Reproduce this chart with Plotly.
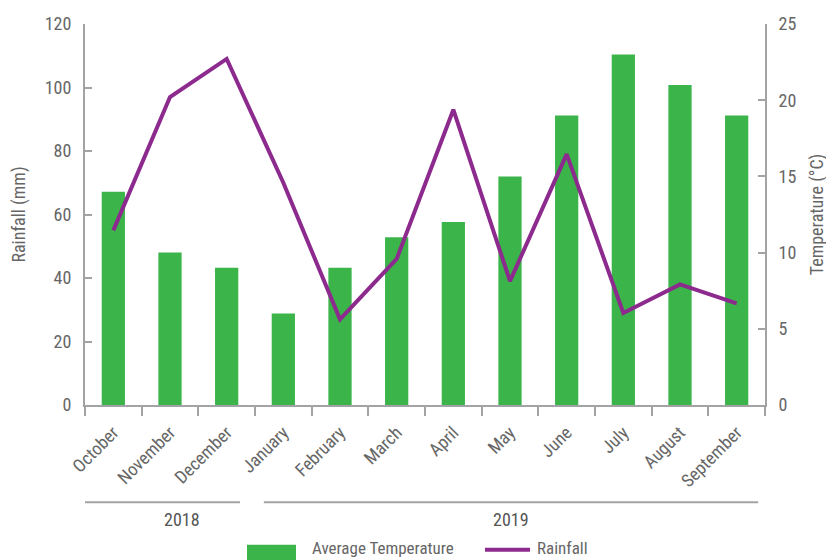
import plotly.graph_objects as go

months = ["October", "November", "December", "January", "February", "March",
          "April", "May", "June", "July", "August", "September"]
temperature_c = [14, 10, 9, 6, 9, 11, 12, 15, 19, 23, 21, 19]
rainfall_mm = [55, 97, 109, 70, 27, 46, 93, 39, 79, 29, 38, 32]
years = ["2018", "2019"]

FONT = "Liberation Sans Narrow, Roboto Condensed, Arial Narrow, Liberation Sans, Arial, sans-serif"
GREEN = "#3BB44A"
PURPLE = "#8C2A8E"
AXIS = "#A3A3A6"
TXT = "#666666"

fig = go.Figure()
fig.add_trace(go.Bar(x=months, y=temperature_c, name="Average Temperature",
                     marker=dict(color=GREEN, line=dict(width=0)), yaxis="y",
                     showlegend=False))
fig.add_trace(go.Scatter(x=months, y=rainfall_mm, name="Rainfall", mode="lines",
                         line=dict(color=PURPLE, width=4), yaxis="y2",
                         showlegend=False))

# page body has an 8px margin, so the figure is shrunk by 8px and margins compensated
fig.update_layout(
    width=826, height=552,
    margin=dict(l=77, r=69, t=16, b=155),
    paper_bgcolor="white", plot_bgcolor="white",
    font=dict(family=FONT, color=TXT, size=16),
    bargap=0.59,
    xaxis=dict(type="category", showgrid=False, showline=True, linecolor=AXIS, linewidth=2,
               ticks="outside", tickson="boundaries", ticklen=9, tickcolor=AXIS, tickwidth=2,
               tickangle=-45, tickfont=dict(size=18, color=TXT), range=[-0.5, 11.5],
               ticklabelstandoff=8, automargin=False),
    yaxis=dict(side="right", range=[0, 25], dtick=5, showgrid=False, zeroline=False,
               showline=True, linecolor=AXIS, linewidth=2, ticks="inside", ticklen=7,
               tickcolor=AXIS, tickwidth=2, tickfont=dict(size=18, color=TXT),
               ticklabelstandoff=8, automargin=False,
               title=dict(text="Temperature (°C)", font=dict(size=18, color=TXT), standoff=15)),
    yaxis2=dict(side="left", overlaying="y", range=[0, 120], dtick=20, showgrid=False,
                zeroline=False, showline=True, linecolor=AXIS, linewidth=2, ticks="inside",
                ticklen=7, tickcolor=AXIS, tickwidth=2, tickfont=dict(size=18, color=TXT),
                ticklabelstandoff=8, automargin=False,
                title=dict(text="Rainfall (mm)", font=dict(size=18, color=TXT), standoff=20)),
)

# year grouping lines and labels
fig.add_shape(type="line", xref="paper", yref="paper", x0=0.0, x1=0.228, y0=-0.255, y1=-0.255,
              line=dict(color=AXIS, width=2))
fig.add_shape(type="line", xref="paper", yref="paper", x0=0.263, x1=0.99, y0=-0.255, y1=-0.255,
              line=dict(color=AXIS, width=2))
fig.add_annotation(text=years[0], xref="paper", yref="paper", x=0.113, y=-0.300,
                   yanchor="middle", showarrow=False, font=dict(size=18, color="#555555"))
fig.add_annotation(text=years[1], xref="paper", yref="paper", x=0.626, y=-0.300,
                   yanchor="middle", showarrow=False, font=dict(size=18, color="#555555"))

# legend (drawn manually so the swatches match the original's wide blocks)
fig.add_shape(type="rect", xref="paper", yref="paper", x0=(247 - 85) / 680, x1=(296 - 85) / 680,
              y0=-0.41, y1=-0.367, fillcolor=GREEN, line=dict(width=0))
fig.add_annotation(text="Average Temperature", xref="paper", yref="paper",
                   x=(310 - 85) / 680, y=-0.376, xanchor="left", yanchor="middle",
                   showarrow=False, font=dict(size=17, color=TXT))
fig.add_shape(type="line", xref="paper", yref="paper", x0=(485 - 85) / 680, x1=(530 - 85) / 680,
              y0=-0.38, y1=-0.38, line=dict(color=PURPLE, width=4))
fig.add_annotation(text="Rainfall", xref="paper", yref="paper",
                   x=(535 - 85) / 680, y=-0.376, xanchor="left", yanchor="middle",
                   showarrow=False, font=dict(size=17, color=TXT))

fig.write_html("out.html")
